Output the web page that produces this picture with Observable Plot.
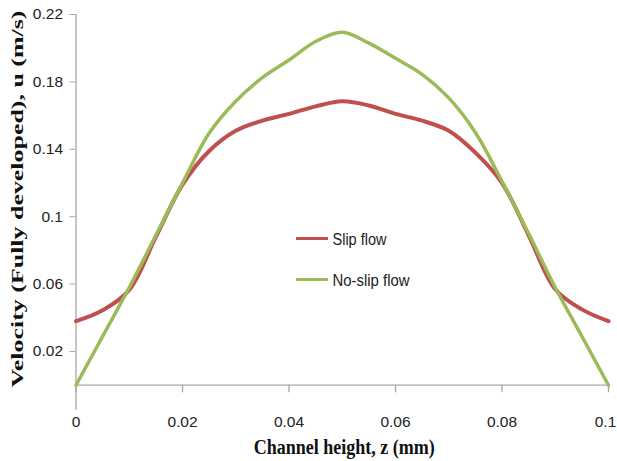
<!DOCTYPE html>
<html>
<head>
<meta charset="utf-8">
<script src="https://cdn.jsdelivr.net/npm/d3@7"></script>
<script src="https://cdn.jsdelivr.net/npm/@observablehq/plot@0.6"></script>
<style>
  body { margin: 0; background: #fff; }
  #chart { position: relative; width: 617px; height: 461px; }
</style>
</head>
<body>
<div id="chart"></div>
<script>
// ---- data ----
const channelHeight = [0, 0.005, 0.01, 0.015, 0.02, 0.025, 0.03, 0.035, 0.04, 0.045, 0.05,
                       0.055, 0.06, 0.065, 0.07, 0.075, 0.08, 0.085, 0.09, 0.095, 0.1];
const slipFlow   = [0.038, 0.0445, 0.0565, 0.088, 0.119, 0.139, 0.151, 0.157, 0.161, 0.1655, 0.1685,
                    0.166, 0.161, 0.157, 0.151, 0.138, 0.120, 0.089, 0.057, 0.045, 0.038];
const noSlipFlow = [0, 0.029, 0.058, 0.089, 0.120, 0.1495, 0.1685, 0.1825, 0.193, 0.204, 0.2095,
                    0.203, 0.194, 0.1845, 0.1705, 0.150, 0.121, 0.090, 0.058, 0.029, 0];
const seriesNames  = ["Slip flow", "No-slip flow"];
const seriesColors = ["#C0504D", "#9BBB59"];
const xTicks = [0, 0.02, 0.04, 0.06, 0.08, 0.1];
const xTickLabels = ["0", "0.02", "0.04", "0.06", "0.08", "0.1"];
const yTicks = [0.02, 0.06, 0.1, 0.14, 0.18, 0.22];
const yTickLabels = ["0.02", "0.06", "0.1", "0.14", "0.18", "0.22"];
const xDomain = [0, 0.1];
const yDomain = [-0.015, 0.22];
const xTitle = "Channel height, z (mm)";
const yTitle = "Velocity (Fully developed), u (m/s)";

const seriesValues = [slipFlow, noSlipFlow];
const data = seriesNames.flatMap((name, s) =>
  channelHeight.map((z, i) => ({series: name, z, u: seriesValues[s][i]})));

const gray = "#A6A6A6";
const narrow = "'Liberation Sans Narrow', 'Liberation Sans', sans-serif";
const serif = "'Liberation Serif', 'DejaVu Serif', serif";

const plot = Plot.plot({
  width: 617,
  height: 461,
  marginLeft: 75.5,
  marginRight: 9,
  marginTop: 14,
  marginBottom: 51,
  style: {fontFamily: narrow, fontSize: "15px", background: "#fff", color: "#222"},
  x: {domain: xDomain},
  y: {domain: yDomain},
  color: {domain: seriesNames, range: seriesColors},
  marks: [
    // axis lines
    Plot.ruleX([xDomain[0]], {y1: yDomain[0], y2: yDomain[1], stroke: gray, strokeWidth: 1.3}),
    Plot.ruleY([0], {x1: xDomain[0], x2: xDomain[1], stroke: gray, strokeWidth: 1.3}),
    // x tick marks hanging below the zero line
    Plot.ruleX(xTicks, {y1: 0, y2: -0.0045, stroke: gray, strokeWidth: 1.3}),
    Plot.axisY({ticks: yTicks, tickFormat: d => yTickLabels[yTicks.indexOf(d)], tickSize: 6, tickPadding: 7,
                stroke: gray, fill: "#222", label: null, fontSize: 15.5}),
    Plot.axisX({ticks: xTicks, tickFormat: d => xTickLabels[xTicks.indexOf(d)], tickSize: 0, tickPadding: 5,
                fill: "#222", label: null, fontSize: 15.5}),
    // series
    Plot.line(data.filter(d => d.series === seriesNames[0]),
      {x: "z", y: "u", stroke: "series", strokeWidth: 4, curve: "catmull-rom"}),
    Plot.line(data.filter(d => d.series === seriesNames[1]),
      {x: "z", y: "u", stroke: "series", strokeWidth: 3.5, curve: "catmull-rom"}),
    // axis titles
    Plot.text([yTitle], {text: d => d, frameAnchor: "left", rotate: -90, dx: -58, dy: 175,
      textAnchor: "start", lineAnchor: "middle",
      fontFamily: serif, fontWeight: "bold", fontSize: 17, fill: "#111"}),
    Plot.text([xTitle], {text: d => d, frameAnchor: "bottom", dx: 2, dy: 37.5, lineAnchor: "middle",
      fontFamily: serif, fontWeight: "bold", fontSize: 20, fill: "#111"}),
    // legend labels
    Plot.text([seriesNames[0]], {text: d => d, frameAnchor: "top-left", dx: 256.5, dy: 225,
      textAnchor: "start", lineAnchor: "middle", fontSize: 16, fill: "#222"}),
    Plot.text([seriesNames[1]], {text: d => d, frameAnchor: "top-left", dx: 256.5, dy: 266,
      textAnchor: "start", lineAnchor: "middle", fontSize: 16, fill: "#222"})
  ]
});

document.getElementById("chart").appendChild(plot);

// stretch / condense texts like the reference
const svg = d3.select(plot);
const fit = (str, len, startX) => {
  const sel = svg.selectAll("text").filter(function () { return this.textContent === str; });
  if (startX !== undefined) sel.attr("text-anchor", "start").attr("x", startX);
  sel.attr("textLength", len).attr("lengthAdjust", "spacingAndGlyphs");
};
fit(yTitle, 377);
fit(xTitle, 181, -90.5);
fit(seriesNames[0], 54);
fit(seriesNames[1], 77);
// nudge the last x tick label so it stays inside the picture
svg.selectAll("text").filter(function () { return this.textContent === xTickLabels[5]; })
  .each(function () {
    const anchor = this.getAttribute("text-anchor") || (this.parentNode && this.parentNode.getAttribute("text-anchor"));
    if (anchor === "end") return; // that one is the y-axis label
    d3.select(this).attr("x", -3);
  });

// legend swatches
const lg = svg.append("g");
seriesNames.forEach((name, i) => {
  const yy = 238.5 + i * 41;
  lg.append("line").attr("x1", 296).attr("x2", 328).attr("y1", yy).attr("y2", yy)
    .attr("stroke", seriesColors[i]).attr("stroke-width", 3);
});
</script>
</body>
</html>
